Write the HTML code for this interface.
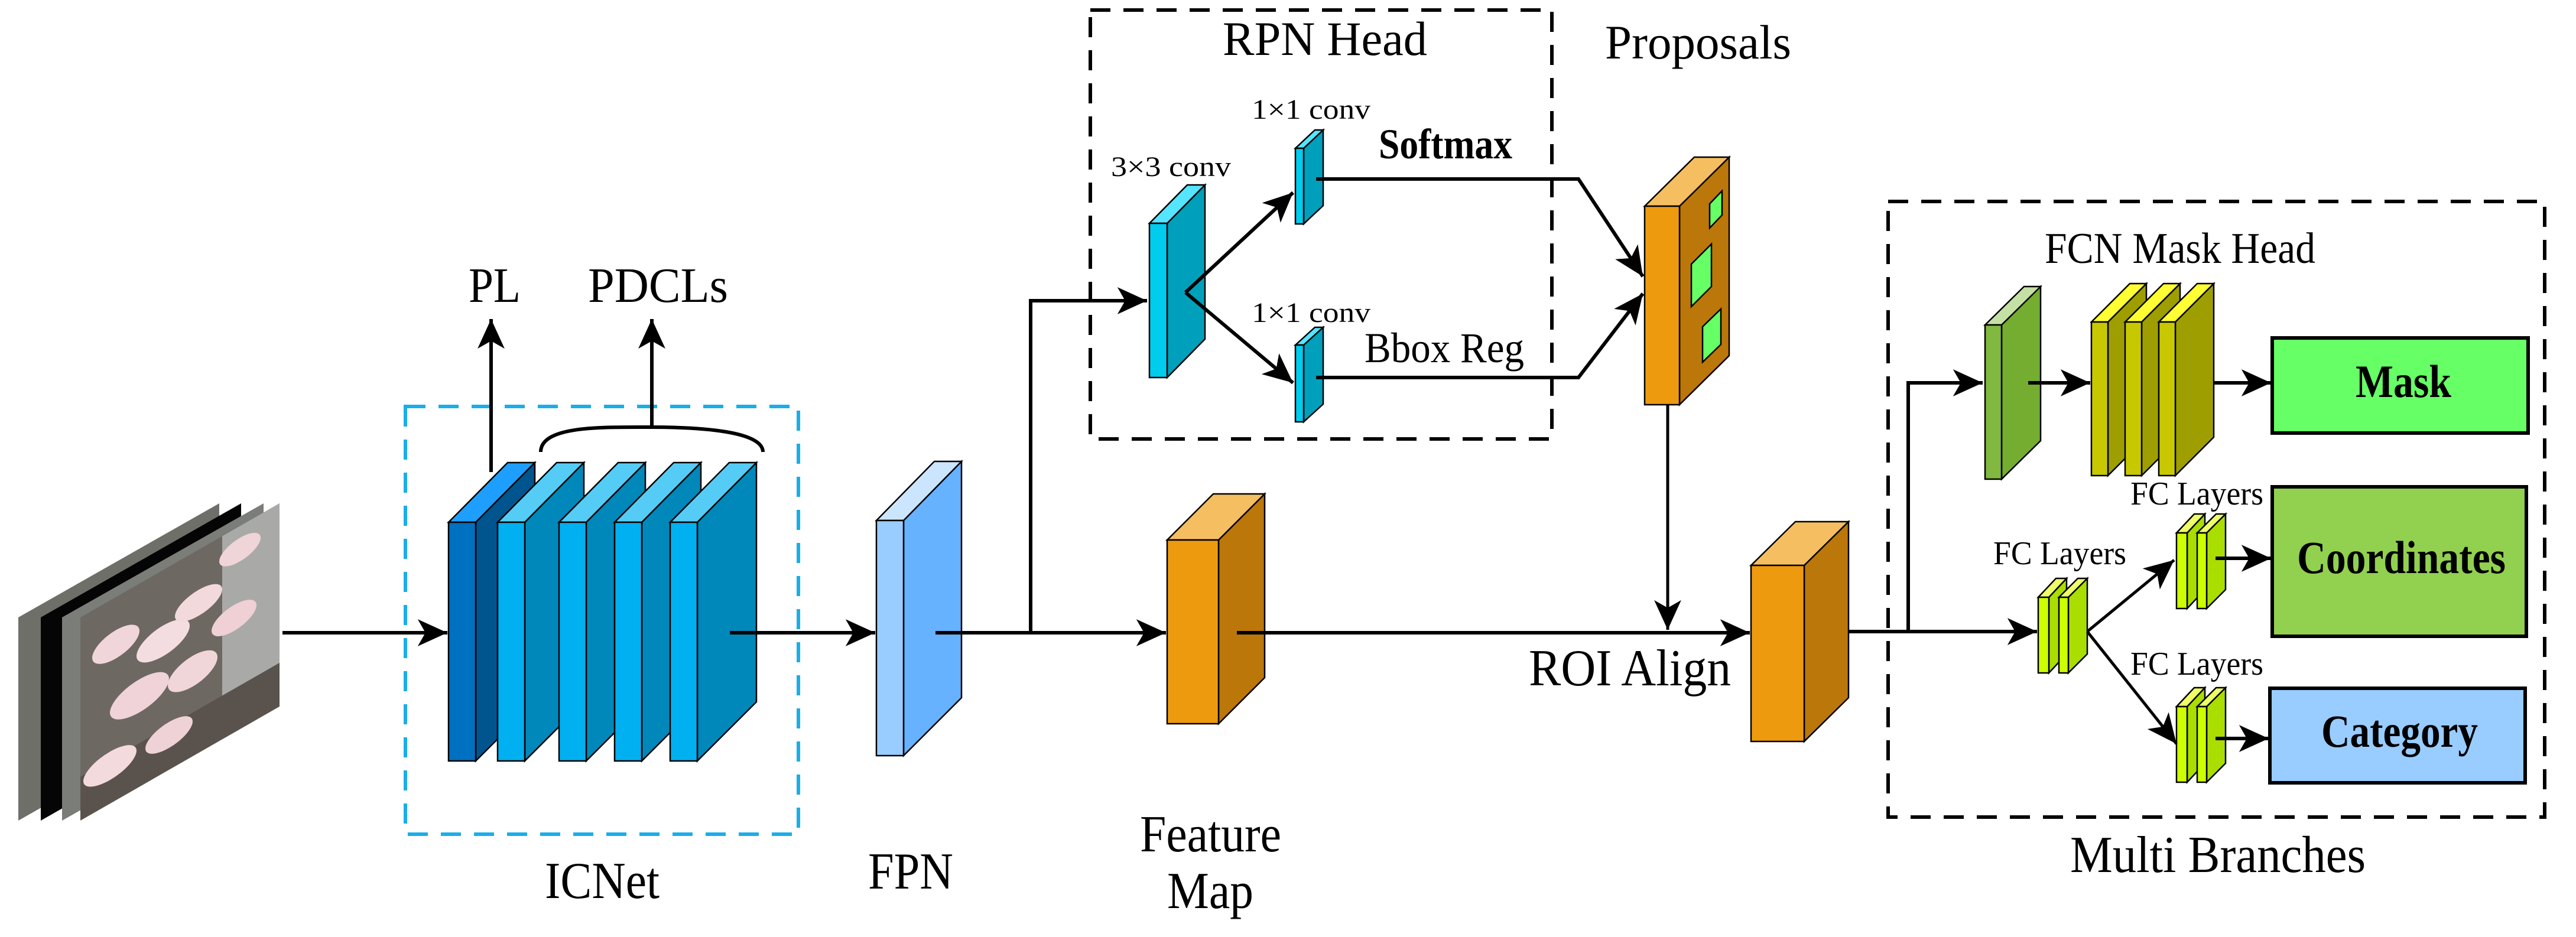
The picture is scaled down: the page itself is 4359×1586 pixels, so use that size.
<!DOCTYPE html>
<html><head><meta charset="utf-8"><style>
html,body{margin:0;padding:0;background:#fff;}
svg{display:block;}
</style></head><body>
<svg xmlns="http://www.w3.org/2000/svg" width="4359" height="1586" viewBox="0 0 4359 1586" font-family="'Liberation Serif', 'Times New Roman', serif">
<defs>
<marker id="ah" markerUnits="userSpaceOnUse" markerWidth="60" markerHeight="60" viewBox="-50 -25 55 50" refX="0" refY="0" orient="auto">
<path d="M0,0 L-46,-21 L-34,0 L-46,21 z" fill="#000"/>
</marker>
<clipPath id="ph"><rect x="0" y="0" width="337" height="344"/></clipPath>
</defs>
<rect width="4359" height="1586" fill="#fff"/>

<!-- photo stack -->
<g>
<polygon points="31,1045 371,852 371,1196 31,1389" fill="#6f6f6a"/>
<polygon points="69,1045 408,852 408,1196 69,1389" fill="#050505"/>
<polygon points="105,1045 446,852 446,1196 105,1389" fill="#7a7d78"/>
<g transform="matrix(1,-0.573,0,1,136,1045)">
<g clip-path="url(#ph)">
<rect x="0" y="0" width="337" height="344" fill="#6e6862"/>
<rect x="240" y="0" width="97" height="344" fill="#a9aaa8"/>
<rect x="0" y="270" width="337" height="74" fill="#5a534d"/>
<ellipse cx="60" cy="80" rx="40" ry="24" fill="#f0d6da"/>
<ellipse cx="140" cy="120" rx="45" ry="26" fill="#f4dde0"/>
<ellipse cx="100" cy="190" rx="50" ry="28" fill="#efd3d8"/>
<ellipse cx="200" cy="90" rx="40" ry="22" fill="#f2d9dc"/>
<ellipse cx="190" cy="200" rx="42" ry="26" fill="#f0d5d9"/>
<ellipse cx="260" cy="150" rx="38" ry="22" fill="#eed0d5"/>
<ellipse cx="50" cy="280" rx="45" ry="24" fill="#f3dadd"/>
<ellipse cx="150" cy="285" rx="40" ry="22" fill="#efd2d6"/>
<ellipse cx="270" cy="40" rx="35" ry="20" fill="#efd4d8"/>
</g></g>
</g>
<line x1="478" y1="1071" x2="757" y2="1071" stroke="#000" stroke-width="6" marker-end="url(#ah)"/>

<!-- ICNet box -->
<rect x="686" y="688" width="665" height="724" fill="none" stroke="#1aaee8" stroke-width="6" stroke-dasharray="34,22"/>
<line x1="831" y1="799" x2="831" y2="540" stroke="#000" stroke-width="6" marker-end="url(#ah)"/>
<line x1="1103" y1="723" x2="1103" y2="540" stroke="#000" stroke-width="6" marker-end="url(#ah)"/>
<path d="M915,765 C915,720 1020,723 1103,723 C1186,723 1291,730 1291,765" fill="none" stroke="#000" stroke-width="6"/>
<text x="793" y="511" font-size="84" textLength="88" lengthAdjust="spacingAndGlyphs">PL</text>
<text x="995" y="511" font-size="84" textLength="237" lengthAdjust="spacingAndGlyphs">PDCLs</text>

<!-- ICNet blocks -->
<g stroke="#000" stroke-width="2.5">
<polygon points="805,884 905,783 905,1188 805,1288" fill="#00558f"/>
<polygon points="759,884 859,783 905,783 805,884" fill="#1e9fff"/>
<rect x="759" y="884" width="46" height="404" fill="#0070c0"/>
<g id="b2">
<polygon points="888,884 988,783 988,1188 888,1288" fill="#0088bb"/>
<polygon points="842,884 942,783 988,783 888,884" fill="#55ccf5"/>
<rect x="842" y="884" width="46" height="404" fill="#00b0f0"/>
</g>
<use href="#b2" x="104"/>
<use href="#b2" x="198"/>
<use href="#b2" x="292"/>
</g>
<line x1="1235" y1="1071" x2="1481" y2="1071" stroke="#000" stroke-width="6" marker-end="url(#ah)"/>
<text x="922" y="1520" font-size="88" textLength="194" lengthAdjust="spacingAndGlyphs">ICNet</text>

<!-- FPN -->
<g stroke="#000" stroke-width="2.5">
<polygon points="1529,881 1627,781 1627,1181 1529,1279" fill="#66b2ff"/>
<polygon points="1483,881 1581,781 1627,781 1529,881" fill="#cce5ff"/>
<rect x="1483" y="881" width="46" height="398" fill="#99ccff"/>
</g>
<text x="1469" y="1504" font-size="88" textLength="144" lengthAdjust="spacingAndGlyphs">FPN</text>
<polyline points="1583,1071 1744,1071 1744,509 1941,509" fill="none" stroke="#000" stroke-width="6" marker-end="url(#ah)"/>
<line x1="1744" y1="1071" x2="1973" y2="1071" stroke="#000" stroke-width="6" marker-end="url(#ah)"/>

<!-- Feature map -->
<g stroke="#000" stroke-width="2.5">
<polygon points="2062,914 2140,836 2140,1147 2062,1225" fill="#bb770a"/>
<polygon points="1975,914 2053,836 2140,836 2062,914" fill="#f5be60"/>
<rect x="1975" y="914" width="87" height="311" fill="#ee9a0f"/>
</g>
<text x="1929" y="1441" font-size="88" textLength="239" lengthAdjust="spacingAndGlyphs">Feature</text>
<text x="1975" y="1537" font-size="88" textLength="146" lengthAdjust="spacingAndGlyphs">Map</text>
<line x1="2093" y1="1071" x2="2961" y2="1071" stroke="#000" stroke-width="6" marker-end="url(#ah)"/>

<!-- RPN head -->
<rect x="1845" y="17" width="781" height="726" fill="none" stroke="#000" stroke-width="6" stroke-dasharray="34,22"/>
<text x="2069" y="93" font-size="82" textLength="346" lengthAdjust="spacingAndGlyphs">RPN Head</text>
<g stroke="#000" stroke-width="2.5">
<polygon points="1975,378 2039,313 2039,574 1975,639" fill="#00a0bc"/>
<polygon points="1945,378 2009,313 2039,313 1975,378" fill="#55e5ff"/>
<rect x="1945" y="378" width="30" height="261" fill="#00ccee"/>
</g>
<text x="1880" y="298" font-size="48" textLength="203" lengthAdjust="spacingAndGlyphs">3×3 conv</text>
<line x1="2006" y1="495" x2="2188" y2="326" stroke="#000" stroke-width="6" marker-end="url(#ah)"/>
<line x1="2006" y1="495" x2="2188" y2="648" stroke="#000" stroke-width="6" marker-end="url(#ah)"/>
<g stroke="#000" stroke-width="2.5">
<polygon points="2206,251 2239,220 2239,348 2206,379" fill="#00a0bc"/>
<polygon points="2192,251 2225,220 2239,220 2206,251" fill="#55e5ff"/>
<rect x="2192" y="251" width="14" height="128" fill="#00ccee"/>
<polygon points="2206,584 2239,554 2239,684 2206,714" fill="#00a0bc"/>
<polygon points="2192,584 2225,554 2239,554 2206,584" fill="#55e5ff"/>
<rect x="2192" y="584" width="14" height="130" fill="#00ccee"/>
</g>
<text x="2118" y="201" font-size="48" textLength="201" lengthAdjust="spacingAndGlyphs">1×1 conv</text>
<text x="2118" y="545" font-size="48" textLength="201" lengthAdjust="spacingAndGlyphs">1×1 conv</text>
<text x="2333" y="268" font-size="72" font-weight="bold" textLength="226" lengthAdjust="spacingAndGlyphs">Softmax</text>
<text x="2309" y="613" font-size="72" textLength="270" lengthAdjust="spacingAndGlyphs">Bbox Reg</text>
<polyline points="2227,303 2671,303 2780,468" fill="none" stroke="#000" stroke-width="6" marker-end="url(#ah)"/>
<polyline points="2227,639 2671,639 2780,497" fill="none" stroke="#000" stroke-width="6" marker-end="url(#ah)"/>

<!-- Proposals -->
<text x="2716" y="99" font-size="82" textLength="315" lengthAdjust="spacingAndGlyphs">Proposals</text>
<g stroke="#000" stroke-width="2.5">
<polygon points="2842,349 2926,266 2926,602 2842,685" fill="#bb770a"/>
<polygon points="2783,349 2867,266 2926,266 2842,349" fill="#f5be60"/>
<rect x="2783" y="349" width="59" height="336" fill="#ee9a0f"/>
<polygon points="2893,345 2914,323 2914,364 2893,386" fill="#66ff66"/>
<polygon points="2862,447 2896,413 2896,485 2862,519" fill="#66ff66"/>
<polygon points="2881,553 2912,523 2912,583 2881,613" fill="#66ff66"/>
</g>
<line x1="2822" y1="685" x2="2822" y2="1066" stroke="#000" stroke-width="5" marker-end="url(#ah)"/>
<text x="2587" y="1160" font-size="88" textLength="342" lengthAdjust="spacingAndGlyphs">ROI Align</text>

<!-- ROI block -->
<g stroke="#000" stroke-width="2.5">
<polygon points="3053,957 3128,883 3128,1181 3053,1255" fill="#bb770a"/>
<polygon points="2963,957 3038,883 3128,883 3053,957" fill="#f5be60"/>
<rect x="2963" y="957" width="90" height="298" fill="#ee9a0f"/>
</g>
<line x1="3128" y1="1069" x2="3447" y2="1069" stroke="#000" stroke-width="6" marker-end="url(#ah)"/>
<polyline points="3229,1069 3229,648 3355,648" fill="none" stroke="#000" stroke-width="6" marker-end="url(#ah)"/>

<!-- Multi branches -->
<rect x="3195" y="341" width="1111" height="1042" fill="none" stroke="#000" stroke-width="6" stroke-dasharray="34,22"/>
<text x="3503" y="1476" font-size="88" textLength="500" lengthAdjust="spacingAndGlyphs">Multi Branches</text>
<text x="3460" y="445" font-size="74" textLength="458" lengthAdjust="spacingAndGlyphs">FCN Mask Head</text>
<g stroke="#000" stroke-width="2.5">
<polygon points="3387,550 3453,485 3453,746 3387,811" fill="#74ad30"/>
<polygon points="3359,550 3425,485 3453,485 3387,550" fill="#c5e0a5"/>
<rect x="3359" y="550" width="28" height="261" fill="#80b840"/>
<g id="yb">
<polygon points="3567,545 3632,480 3632,740 3567,805" fill="#9e9e00"/>
<polygon points="3539,545 3604,480 3632,480 3567,545" fill="#ffff33"/>
<rect x="3539" y="545" width="28" height="260" fill="#c8c800"/>
</g>
<use href="#yb" x="57"/>
<use href="#yb" x="114"/>
</g>
<line x1="3432" y1="648" x2="3537" y2="648" stroke="#000" stroke-width="6" marker-end="url(#ah)"/>
<line x1="3746" y1="648" x2="3843" y2="648" stroke="#000" stroke-width="6" marker-end="url(#ah)"/>
<rect x="3845" y="572" width="433" height="161" fill="#66ff66" stroke="#000" stroke-width="6"/>
<text x="3986" y="672" font-size="78" font-weight="bold" textLength="162" lengthAdjust="spacingAndGlyphs">Mask</text>
<rect x="3845" y="824" width="430" height="253" fill="#92d050" stroke="#000" stroke-width="6"/>
<text x="3887" y="970" font-size="78" font-weight="bold" textLength="353" lengthAdjust="spacingAndGlyphs">Coordinates</text>
<rect x="3841" y="1165" width="432" height="160" fill="#99ccff" stroke="#000" stroke-width="6"/>
<text x="3928" y="1264" font-size="78" font-weight="bold" textLength="265" lengthAdjust="spacingAndGlyphs">Category</text>

<!-- FC layers -->
<g stroke="#000" stroke-width="2.5">
<g id="fc">
<polygon points="3467,1011 3497,979 3497,1107 3467,1139" fill="#aadd00"/>
<polygon points="3449,1011 3479,979 3497,979 3467,1011" fill="#eeff66"/>
<rect x="3449" y="1011" width="18" height="128" fill="#ccff00"/>
<polygon points="3500,1011 3532,979 3532,1107 3500,1139" fill="#aadd00"/>
<polygon points="3484,1011 3516,979 3532,979 3500,1011" fill="#eeff66"/>
<rect x="3484" y="1011" width="16" height="128" fill="#ccff00"/>
</g>
<use href="#fc" x="234" y="-109"/>
<use href="#fc" x="234" y="185"/>
</g>
<text x="3373" y="955" font-size="56" textLength="225" lengthAdjust="spacingAndGlyphs">FC Layers</text>
<text x="3605" y="854" font-size="56" textLength="225" lengthAdjust="spacingAndGlyphs">FC Layers</text>
<text x="3605" y="1142" font-size="56" textLength="225" lengthAdjust="spacingAndGlyphs">FC Layers</text>
<line x1="3532" y1="1069" x2="3679" y2="948" stroke="#000" stroke-width="5" marker-end="url(#ah)"/>
<line x1="3532" y1="1069" x2="3683" y2="1259" stroke="#000" stroke-width="5" marker-end="url(#ah)"/>
<line x1="3749" y1="945" x2="3843" y2="945" stroke="#000" stroke-width="6" marker-end="url(#ah)"/>
<line x1="3749" y1="1250" x2="3839" y2="1250" stroke="#000" stroke-width="6" marker-end="url(#ah)"/>
</svg>
</body></html>
